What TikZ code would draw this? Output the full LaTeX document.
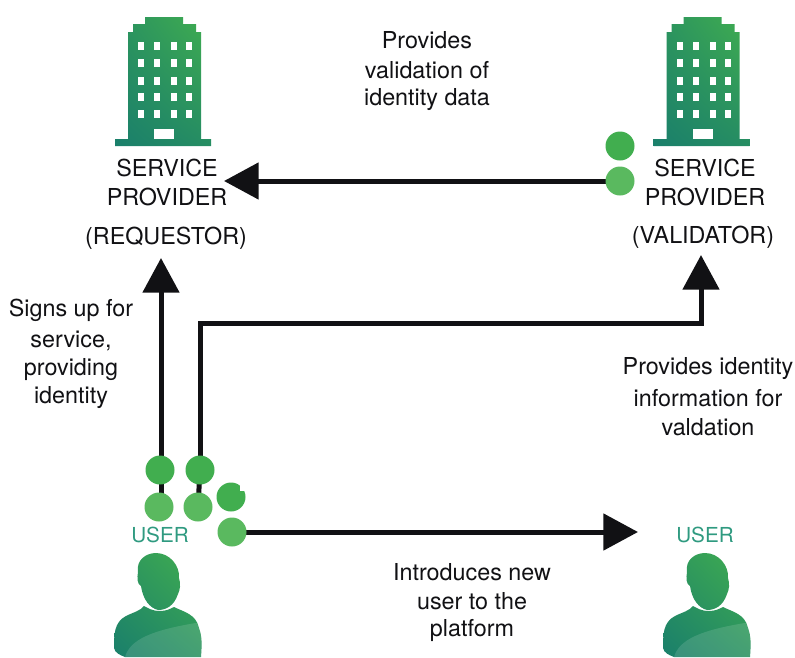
\documentclass[tikz,border=0pt]{standalone}
\usepackage{fontspec}
\setmainfont{TeX Gyre Heros}
\usetikzlibrary{arrows.meta,backgrounds,shadings}
\definecolor{dkgreen}{HTML}{41AE4F}
\definecolor{ltgreen}{HTML}{5AB95F}
\definecolor{teal1}{HTML}{1A7F6B}
\definecolor{usertxt}{HTML}{2F9A80}
\definecolor{ink}{HTML}{111114}
\tikzset{
  x=0.75pt,y=-0.75pt,
  dot/.style={circle,minimum size=21.75pt,inner sep=0pt,fill=#1},
  lbl/.style={font=\fontsize{17.5}{17.5}\selectfont,text=ink,inner sep=0pt,anchor=center},
  usr/.style={font=\fontsize{15.5}{15.5}\selectfont,text=usertxt,inner sep=0pt},
  conn/.style={draw=ink,line width=3.75pt},
  arr/.style={conn,-{Triangle[length=26pt,width=27pt]}},
  pane/.style={fill=white,draw=none},
}
\newcommand{\tower}[1]{%
 \begin{scope}[xshift=#1*0.75pt]
  \begin{scope}
   \clip (145,17)--(183,17)--(183,24)--(196,24)--(196,32)--(201,32)--(201,139)--(211,139)--(211,146)--(115,146)--(115,139)--(128,139)--(128,32)--(133,32)--(133,24)--(145,24)--cycle;
   \shade[lower left=teal1,lower right=teal1!70!dkgreen,upper right=dkgreen,upper left=teal1!60!dkgreen] (115,17) rectangle (211,146);
  \end{scope}
  \foreach \cx in {141,157,174,189}{\foreach \cy in {46,63,81,97,114}{
    \fill[pane] (\cx-3,\cy-4) rectangle (\cx+3,\cy+4);}}
  \fill[pane] (154,129) rectangle (174,139);
 \end{scope}}
\newcommand{\person}[1]{%
 \begin{scope}[xshift=#1*0.75pt]
  \begin{scope}
   \clip (156,553) .. controls (170,553) and (180,566) .. (179,578) .. controls (181,584) and (180,590) .. (178,594) .. controls (174,606) and (166,610) .. (158,610) .. controls (150,608) and (143,600) .. (141,586) .. controls (137,584) and (137,578) .. (138,572) .. controls (136,560) and (146,553) .. (156,553) -- cycle
   (144,606) .. controls (148,608) and (152,611) .. (160,611) .. controls (166,611) and (170,609) .. (174,607) .. controls (184,612) and (196,614) .. (199,628) .. controls (202,636) and (202,644) .. (201,657) -- (125,657) .. controls (120,655) and (115,653) .. (114,648) .. controls (114,635) and (114,622) .. (126,616) .. controls (134,612) and (140,611) .. (144,606) -- cycle;
   \shade[lower left=teal1,lower right=teal1!60!dkgreen,upper right=dkgreen,upper left=teal1!50!dkgreen] (114,553) rectangle (202,657);
   \fill[white,opacity=.13] (125,657) .. controls (130,640) and (150,630) .. (202,622) -- (202,657) -- cycle;
  \end{scope}
 \end{scope}}
\begin{document}
\begin{tikzpicture}
\useasboundingbox (0,0) rectangle (795,657);
\tower{0}
\tower{538.5}
\person{0}
\person{549}
% labels
\node[lbl] (t1) at (427,40) {Provides};
\node[lbl] (t2) at (427,70) {validation of};
\node[lbl] (t3) at (427,100) {identity data};
\node[lbl] (r1) at (167,168) {SERVICE};
\node[lbl] (r2) at (167,197) {PROVIDER};
\node[lbl] (r3) at (166,238) {(REQUESTOR)};
\node[lbl] (v1) at (705,168) {SERVICE};
\node[lbl] (v2) at (705,197) {PROVIDER};
\node[lbl] (v3) at (703,237) {(VALIDATOR)};
\node[lbl] (s1) at (71,310) {Signs up for};
\node[lbl] (s2) at (71,341) {service,};
\node[lbl] (s3) at (71,370) {providing};
\node[lbl] (s4) at (71,398) {identity};
\node[lbl] (p1) at (708,369) {Provides identity};
\node[lbl] (p2) at (708,398) {information for};
\node[lbl] (p3) at (708,427) {valdation};
\node[lbl] (i1) at (472,572) {Introduces new};
\node[lbl] (i2) at (472,601) {user to the};
\node[lbl] (i3) at (472,630) {platform};
\node[usr] (u1) at (160,535) {USER};
\node[usr] (u2) at (705,535) {USER};
% dots
\node[dot=dkgreen] (a1) at (160,470) {};
\node[dot=dkgreen] (a2) at (200,470) {};
\node[dot=ltgreen] (b1) at (159,507) {};
\node[dot=ltgreen] (b2) at (198,507) {};
\node[dot=dkgreen] (a3) at (231,497) {};
\fill[white] (240,482) rectangle (246,491);
\node[dot=ltgreen] (b3) at (232,532) {};
\node[dot=dkgreen] (a4) at (620,146) {};
\node[dot=ltgreen] (b4) at (620,181) {};
% free ends
\coordinate (tipreq) at (224,181);
\coordinate (tipup) at (161,258);
\coordinate (tipval) at (701,255);
\coordinate (tipusr) at (638,532);
\coordinate (bend1) at (200,323);
\coordinate (bend2) at (701,323);
\begin{scope}[on background layer]
 \draw[arr] (b4.center) -- (tipreq);
 \draw[arr] (b1.center -| tipup) -- (tipup);
 \draw[arr] (a2.center) -- (bend1) -- (bend2) -- (tipval);
 \draw[conn] (a2.center) -- (b2.center);
 \draw[arr] (b3.center) -- (tipusr);
\end{scope}
\end{tikzpicture}
\end{document}
